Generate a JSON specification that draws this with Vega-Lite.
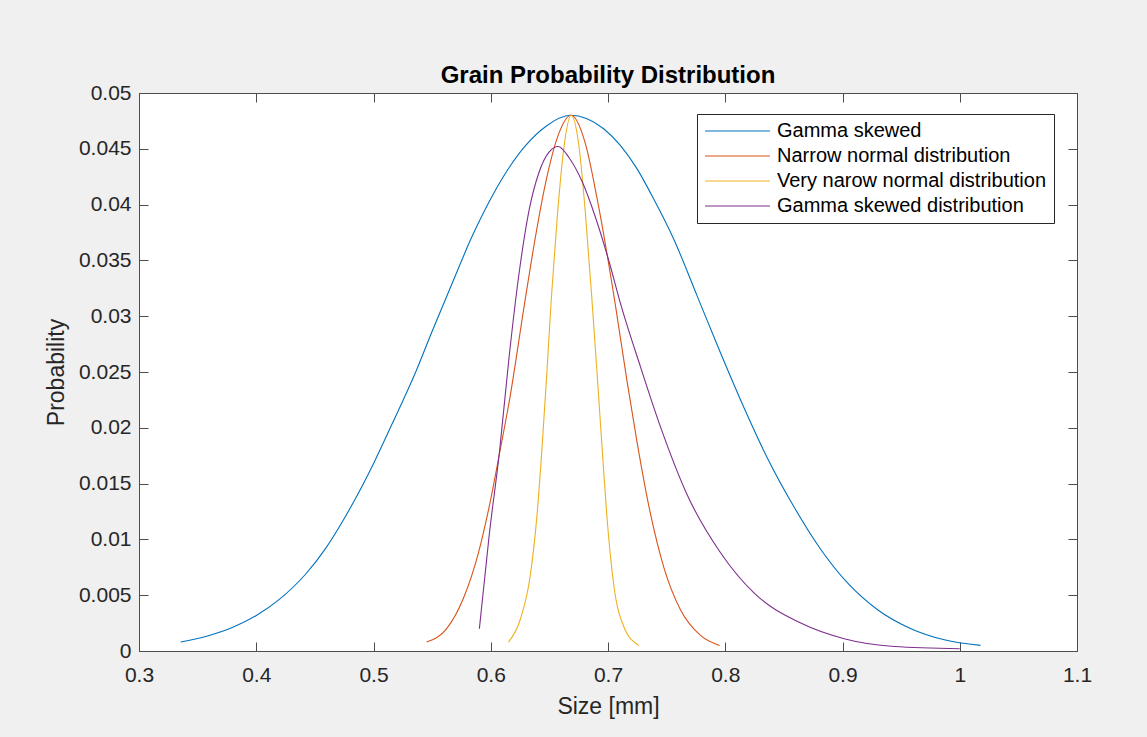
{
  "$schema": "https://vega.github.io/schema/vega-lite/v6.json",
  "autosize": {"type": "none"},
  "padding": {"left": 139, "top": 93, "right": 70, "bottom": 86},
  "width": 938,
  "height": 558,
  "background": "#f0f0f0",
  "title": {"text": "Grain Probability Distribution", "font": "Liberation Sans", "fontSize": 24, "fontWeight": "bold", "color": "#000000", "offset": -6, "anchor": "middle"},
  "data": {"values": [
    {"series": "Gamma skewed", "size": 0.3355, "probability": 0.0008},
    {"series": "Gamma skewed", "size": 0.3569, "probability": 0.0013},
    {"series": "Gamma skewed", "size": 0.3796, "probability": 0.0021},
    {"series": "Gamma skewed", "size": 0.4004, "probability": 0.0032},
    {"series": "Gamma skewed", "size": 0.4194, "probability": 0.0046},
    {"series": "Gamma skewed", "size": 0.4422, "probability": 0.0069},
    {"series": "Gamma skewed", "size": 0.4592, "probability": 0.0092},
    {"series": "Gamma skewed", "size": 0.4763, "probability": 0.0121},
    {"series": "Gamma skewed", "size": 0.5005, "probability": 0.0169},
    {"series": "Gamma skewed", "size": 0.5161, "probability": 0.0204},
    {"series": "Gamma skewed", "size": 0.5360, "probability": 0.0250},
    {"series": "Gamma skewed", "size": 0.5502, "probability": 0.0287},
    {"series": "Gamma skewed", "size": 0.5673, "probability": 0.0330},
    {"series": "Gamma skewed", "size": 0.5843, "probability": 0.0372},
    {"series": "Gamma skewed", "size": 0.6014, "probability": 0.0408},
    {"series": "Gamma skewed", "size": 0.6156, "probability": 0.0433},
    {"series": "Gamma skewed", "size": 0.6298, "probability": 0.0453},
    {"series": "Gamma skewed", "size": 0.6469, "probability": 0.0470},
    {"series": "Gamma skewed", "size": 0.6680, "probability": 0.0480},
    {"series": "Gamma skewed", "size": 0.6821, "probability": 0.0477},
    {"series": "Gamma skewed", "size": 0.6963, "probability": 0.0468},
    {"series": "Gamma skewed", "size": 0.7105, "probability": 0.0453},
    {"series": "Gamma skewed", "size": 0.7248, "probability": 0.0432},
    {"series": "Gamma skewed", "size": 0.7390, "probability": 0.0405},
    {"series": "Gamma skewed", "size": 0.7561, "probability": 0.0369},
    {"series": "Gamma skewed", "size": 0.7761, "probability": 0.0318},
    {"series": "Gamma skewed", "size": 0.7960, "probability": 0.0267},
    {"series": "Gamma skewed", "size": 0.8160, "probability": 0.0218},
    {"series": "Gamma skewed", "size": 0.8359, "probability": 0.0173},
    {"series": "Gamma skewed", "size": 0.8587, "probability": 0.0129},
    {"series": "Gamma skewed", "size": 0.8815, "probability": 0.0091},
    {"series": "Gamma skewed", "size": 0.9043, "probability": 0.0061},
    {"series": "Gamma skewed", "size": 0.9299, "probability": 0.0037},
    {"series": "Gamma skewed", "size": 0.9584, "probability": 0.0020},
    {"series": "Gamma skewed", "size": 0.9869, "probability": 0.0010},
    {"series": "Gamma skewed", "size": 1.0177, "probability": 0.0005},

    {"series": "Narrow normal distribution", "size": 0.5453, "probability": 0.0008},
    {"series": "Narrow normal distribution", "size": 0.5624, "probability": 0.0020},
    {"series": "Narrow normal distribution", "size": 0.5766, "probability": 0.0047},
    {"series": "Narrow normal distribution", "size": 0.5895, "probability": 0.0088},
    {"series": "Narrow normal distribution", "size": 0.5994, "probability": 0.0133},
    {"series": "Narrow normal distribution", "size": 0.6080, "probability": 0.0180},
    {"series": "Narrow normal distribution", "size": 0.6165, "probability": 0.0228},
    {"series": "Narrow normal distribution", "size": 0.6279, "probability": 0.0305},
    {"series": "Narrow normal distribution", "size": 0.6355, "probability": 0.0355},
    {"series": "Narrow normal distribution", "size": 0.6469, "probability": 0.0420},
    {"series": "Narrow normal distribution", "size": 0.6568, "probability": 0.0460},
    {"series": "Narrow normal distribution", "size": 0.6685, "probability": 0.0480},
    {"series": "Narrow normal distribution", "size": 0.6806, "probability": 0.0455},
    {"series": "Narrow normal distribution", "size": 0.6906, "probability": 0.0406},
    {"series": "Narrow normal distribution", "size": 0.7063, "probability": 0.0310},
    {"series": "Narrow normal distribution", "size": 0.7162, "probability": 0.0242},
    {"series": "Narrow normal distribution", "size": 0.7248, "probability": 0.0187},
    {"series": "Narrow normal distribution", "size": 0.7362, "probability": 0.0123},
    {"series": "Narrow normal distribution", "size": 0.7476, "probability": 0.0075},
    {"series": "Narrow normal distribution", "size": 0.7618, "probability": 0.0037},
    {"series": "Narrow normal distribution", "size": 0.7789, "probability": 0.0014},
    {"series": "Narrow normal distribution", "size": 0.7952, "probability": 0.0005},

    {"series": "Very narow normal distribution", "size": 0.6151, "probability": 0.0008},
    {"series": "Very narow normal distribution", "size": 0.6251, "probability": 0.0028},
    {"series": "Very narow normal distribution", "size": 0.6336, "probability": 0.0067},
    {"series": "Very narow normal distribution", "size": 0.6393, "probability": 0.0120},
    {"series": "Very narow normal distribution", "size": 0.6436, "probability": 0.0180},
    {"series": "Very narow normal distribution", "size": 0.6479, "probability": 0.0250},
    {"series": "Very narow normal distribution", "size": 0.6516, "probability": 0.0315},
    {"series": "Very narow normal distribution", "size": 0.6568, "probability": 0.0390},
    {"series": "Very narow normal distribution", "size": 0.6625, "probability": 0.0452},
    {"series": "Very narow normal distribution", "size": 0.6685, "probability": 0.0480},
    {"series": "Very narow normal distribution", "size": 0.6749, "probability": 0.0455},
    {"series": "Very narow normal distribution", "size": 0.6806, "probability": 0.0394},
    {"series": "Very narow normal distribution", "size": 0.6863, "probability": 0.0315},
    {"series": "Very narow normal distribution", "size": 0.6906, "probability": 0.0250},
    {"series": "Very narow normal distribution", "size": 0.6949, "probability": 0.0183},
    {"series": "Very narow normal distribution", "size": 0.6991, "probability": 0.0120},
    {"series": "Very narow normal distribution", "size": 0.7048, "probability": 0.0060},
    {"series": "Very narow normal distribution", "size": 0.7134, "probability": 0.0022},
    {"series": "Very narow normal distribution", "size": 0.7262, "probability": 0.0005},

    {"series": "Gamma skewed distribution", "size": 0.5903, "probability": 0.0020},
    {"series": "Gamma skewed distribution", "size": 0.5986, "probability": 0.0103},
    {"series": "Gamma skewed distribution", "size": 0.6076, "probability": 0.0180},
    {"series": "Gamma skewed distribution", "size": 0.6156, "probability": 0.0263},
    {"series": "Gamma skewed distribution", "size": 0.6241, "probability": 0.0338},
    {"series": "Gamma skewed distribution", "size": 0.6327, "probability": 0.0395},
    {"series": "Gamma skewed distribution", "size": 0.6412, "probability": 0.0429},
    {"series": "Gamma skewed distribution", "size": 0.6497, "probability": 0.0447},
    {"series": "Gamma skewed distribution", "size": 0.6575, "probability": 0.0452},
    {"series": "Gamma skewed distribution", "size": 0.6668, "probability": 0.0442},
    {"series": "Gamma skewed distribution", "size": 0.6782, "probability": 0.0420},
    {"series": "Gamma skewed distribution", "size": 0.6895, "probability": 0.0388},
    {"series": "Gamma skewed distribution", "size": 0.7009, "probability": 0.0349},
    {"series": "Gamma skewed distribution", "size": 0.7105, "probability": 0.0312},
    {"series": "Gamma skewed distribution", "size": 0.7276, "probability": 0.0255},
    {"series": "Gamma skewed distribution", "size": 0.7447, "probability": 0.0201},
    {"series": "Gamma skewed distribution", "size": 0.7675, "probability": 0.0140},
    {"series": "Gamma skewed distribution", "size": 0.7960, "probability": 0.0088},
    {"series": "Gamma skewed distribution", "size": 0.8245, "probability": 0.0052},
    {"series": "Gamma skewed distribution", "size": 0.8644, "probability": 0.0025},
    {"series": "Gamma skewed distribution", "size": 0.9014, "probability": 0.0011},
    {"series": "Gamma skewed distribution", "size": 0.9442, "probability": 0.0004},
    {"series": "Gamma skewed distribution", "size": 1.0000, "probability": 0.0002}
  ]},
  "layer": [
    {
      "mark": {"type": "line", "strokeWidth": 1.1, "interpolate": "monotone"},
      "encoding": {
        "x": {"field": "size", "type": "quantitative",
              "scale": {"domain": [0.3, 1.1], "nice": false, "zero": false},
              "axis": {"orient": "bottom", "title": "Size [mm]", "values": [0.3, 0.4, 0.5, 0.6, 0.7, 0.8, 0.9, 1.0, 1.1], "format": "~g", "tickSize": -9, "labelPadding": 22, "titlePadding": 10}},
        "y": {"field": "probability", "type": "quantitative",
              "scale": {"domain": [0, 0.05], "nice": false, "zero": false},
              "axis": {"orient": "left", "title": "Probability", "values": [0, 0.005, 0.01, 0.015, 0.02, 0.025, 0.03, 0.035, 0.04, 0.045, 0.05], "format": "~g", "tickSize": -9, "labelPadding": 17, "titlePadding": 10}},
        "color": {"field": "series", "type": "nominal",
                  "scale": {"domain": ["Gamma skewed", "Narrow normal distribution", "Very narow normal distribution", "Gamma skewed distribution"], "range": ["#0072BD", "#D95319", "#EDB120", "#7E2F8E"]},
                  "legend": {"orient": "none", "legendX": 558, "legendY": 21, "title": null, "symbolType": "M-3.611,0H3.611", "symbolSize": 324, "symbolStrokeWidth": 1.1, "symbolOffset": 23.5, "labelOffset": 29.5, "labelLimit": 0, "labelFontSize": 20, "labelFont": "Liberation Sans", "labelColor": "#000000", "strokeColor": "#262626", "fillColor": "#ffffff", "padding": 7, "rowPadding": 5}}
      }
    },
    {
      "mark": {"type": "line", "opacity": 0},
      "encoding": {
        "x": {"field": "size", "type": "quantitative",
              "axis": {"orient": "top", "title": null, "labels": false, "values": [0.3, 0.4, 0.5, 0.6, 0.7, 0.8, 0.9, 1.0, 1.1], "tickSize": -9}},
        "y": {"field": "probability", "type": "quantitative",
              "axis": {"orient": "right", "title": null, "labels": false, "values": [0, 0.005, 0.01, 0.015, 0.02, 0.025, 0.03, 0.035, 0.04, 0.045, 0.05], "tickSize": -9}},
        "detail": {"field": "series"}
      }
    }
  ],
  "resolve": {"axis": {"x": "independent", "y": "independent"}},
  "config": {
    "view": {"fill": "#ffffff", "stroke": "#4d4d4d", "strokeWidth": 1},
    "axis": {"grid": false, "domain": false, "tickColor": "#4d4d4d", "tickWidth": 1, "labelFont": "Liberation Sans", "labelFontSize": 21, "labelColor": "#262626", "titleFont": "Liberation Sans", "titleFontSize": 23, "titleFontWeight": "normal", "titleColor": "#262626", "labelFlush": false, "labelOverlap": false}
  }
}
